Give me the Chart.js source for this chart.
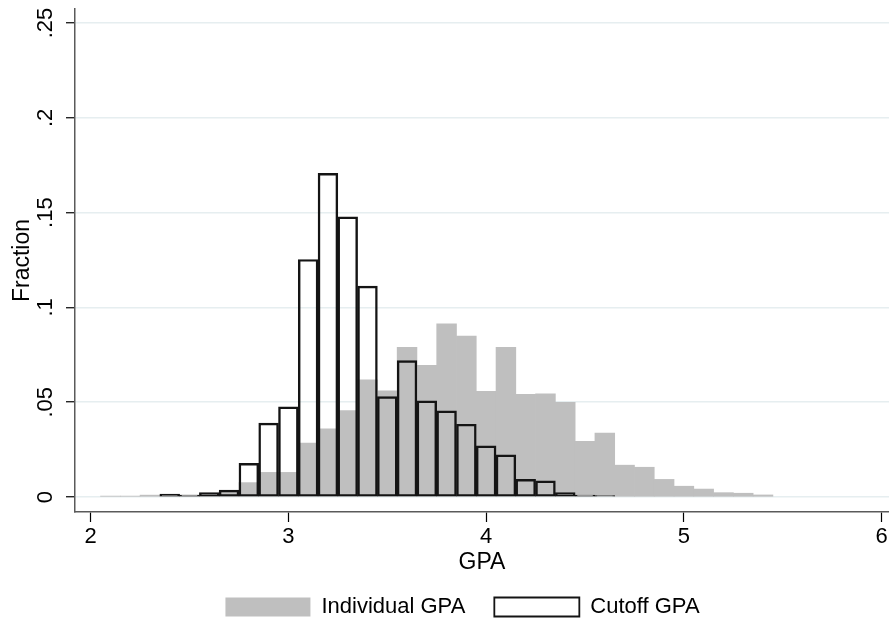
<!DOCTYPE html>
<html>
<head>
<meta charset="utf-8">
<title>GPA histogram</title>
<script src="https://cdn.jsdelivr.net/npm/chart.js@4.4.0/dist/chart.umd.min.js"></script>
<style>
  html, body { margin: 0; padding: 0; background: #fff; }
  #wrap { width: 889px; height: 628px; }
</style>
</head>
<body>
<div id="wrap"><canvas id="gpaChart" width="889" height="628"></canvas></div>
<script>
// Bin centres (GPA, bins 0.1 wide) and fractions
const indivGpa = [2.1, 2.2, 2.3, 2.4, 2.5, 2.6, 2.7, 2.8, 2.9, 3.0, 3.1, 3.2, 3.3, 3.4, 3.5, 3.6, 3.7,
                  3.8, 3.9, 4.0, 4.1, 4.2, 4.3, 4.4, 4.5, 4.6, 4.7, 4.8, 4.9, 5.0, 5.1, 5.2, 5.3, 5.4];
const indivFrac = [0.0005, 0.0005, 0.001, 0.001, 0.001, 0.002, 0.003, 0.0076, 0.013, 0.013, 0.0284, 0.036,
                   0.0456, 0.0618, 0.056, 0.0789, 0.0694, 0.0914, 0.0849, 0.0557, 0.0789, 0.0541, 0.0544,
                   0.05, 0.0294, 0.0337, 0.0168, 0.0157, 0.0093, 0.0057, 0.0042, 0.0023, 0.002, 0.0011];

const cutoffGpa = [2.4, 2.5, 2.6, 2.7, 2.8, 2.9, 3.0, 3.1, 3.2, 3.3, 3.4, 3.5,
                   3.6, 3.7, 3.8, 3.9, 4.0, 4.1, 4.2, 4.3, 4.4, 4.5, 4.6];
const cutoffFrac = [0.0015, 0.001, 0.0023, 0.0037, 0.0178, 0.039, 0.0476, 0.1253, 0.1707, 0.1478, 0.1112, 0.053,
                    0.072, 0.0507, 0.0455, 0.0384, 0.027, 0.0222, 0.0093, 0.0085, 0.0023, 0.001, 0.0007];

const xTicks = [2, 3, 4, 5, 6];
const yTicks = [0, 0.05, 0.1, 0.15, 0.2, 0.25];
const yTickLabels = ['0', '.05', '.1', '.15', '.2', '.25'];

const FONT = "'Liberation Sans', Arial, sans-serif";
const AXIS_COLOR = '#5a5a5a';

function toPoints(xs, ys) {
  return xs.map((x, i) => ({ x: x, y: ys[i] }));
}

// nudge the legend row to the right, like the reference
const legendShift = {
  id: 'legendShift',
  afterLayout(chart) {
    chart.legend.left += 18;
    chart.legend.right += 18;
  }
};

const ctx = document.getElementById('gpaChart').getContext('2d');

new Chart(ctx, {
  type: 'bar',
  data: {
    datasets: [
      {
        label: 'Individual GPA',
        data: toPoints(indivGpa, indivFrac),
        backgroundColor: '#bfbfbf',
        borderWidth: 0,
        grouped: false,
        barPercentage: 1,
        categoryPercentage: 1,
        order: 1
      },
      {
        label: 'Cutoff GPA',
        data: toPoints(cutoffGpa, cutoffFrac),
        backgroundColor: 'rgba(255,255,255,0)',
        borderColor: '#141414',
        borderWidth: 1.8,
        borderSkipped: false,
        grouped: false,
        barPercentage: 1,
        categoryPercentage: 1,
        order: 0
      }
    ]
  },
  options: {
    responsive: false,
    animation: false,
    devicePixelRatio: 1,
    layout: { padding: { top: 9, left: 0, right: 0, bottom: 0 } },
    plugins: {
      tooltip: { enabled: false },
      legend: {
        position: 'bottom',
        labels: {
          boxWidth: 85,
          boxHeight: 19,
          padding: 29,
          color: '#000',
          font: { family: FONT, size: 22 },
          sort: (a, b) => a.datasetIndex - b.datasetIndex
        }
      }
    },
    scales: {
      x: {
        type: 'linear',
        offset: false,
        min: 1.921,
        max: 6.037,
        afterBuildTicks: scale => { scale.ticks = xTicks.map(v => ({ value: v })); },
        afterFit: scale => { scale.height = 55; scale.paddingLeft = 0; scale.paddingRight = 0; },
        grid: { offset: false, drawOnChartArea: false, tickLength: 10, tickColor: '#000', tickWidth: 1.2 },
        border: { color: AXIS_COLOR, width: 1.5 },
        ticks: {
          color: '#000',
          font: { family: FONT, size: 22 },
          padding: 2,
          maxRotation: 0,
          autoSkip: false,
          callback: v => String(v)
        },
        title: {
          display: true,
          text: 'GPA',
          color: '#000',
          font: { family: FONT, size: 23, lineHeight: 1.2 },
          padding: { top: 0, bottom: -9 }
        }
      },
      y: {
        min: -0.0079,
        max: 0.2574,
        afterBuildTicks: scale => { scale.ticks = yTicks.map(v => ({ value: v })); },
        afterFit: scale => { scale.width = 75; scale.paddingTop = 0; scale.paddingBottom = 0; },
        grid: { color: '#e6eef0', lineWidth: 1.5, tickLength: 9, tickColor: '#000', tickWidth: 1.2 },
        border: { color: AXIS_COLOR, width: 1.5 },
        ticks: {
          color: '#000',
          font: { family: FONT, size: 22 },
          padding: 5,
          minRotation: 90,
          maxRotation: 90,
          crossAlign: 'center',
          callback: v => yTickLabels[yTicks.indexOf(v)]
        },
        title: {
          display: true,
          text: 'Fraction',
          color: '#000',
          font: { family: FONT, size: 23, lineHeight: 1.2 },
          padding: { top: 9, bottom: 0 }
        }
      }
    }
  },
  plugins: [legendShift]
});
</script>
</body>
</html>
